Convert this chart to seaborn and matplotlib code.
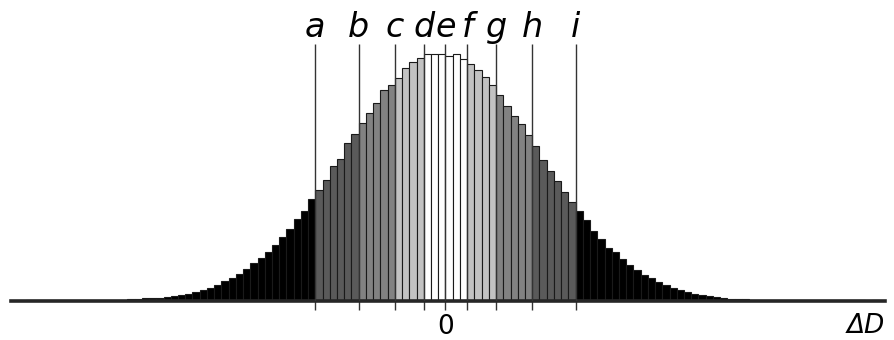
import numpy as np
import pandas as pd
import matplotlib
matplotlib.use("Agg")
import matplotlib.pyplot as plt
import seaborn as sns

# Histogram of ΔD: left bin edges (unit-width bins) and bin counts
bin_left = list(range(-60, 60))
counts = [
    0.3, 0.0, 0.6, 0.6, 0.6, 0.6, 0.6, 0.6, 0.6, 0.6,          # -60 .. -51
    0.6, 0.6, 0.6, 0.6, 0.6, 0.6, 1.6, 1.8, 2.6, 3.0,          # -50 .. -41
    3.3, 4.0, 4.7, 6.0, 7.3, 8.7, 10.7, 13.3, 15.7, 20.3,      # -40 .. -31
    23.3, 26.7, 32.3, 37.7, 43.3, 49.0, 56.3, 64.0, 72.0, 81.7,  # -30 .. -21
    90.0, 101.7, 111.0, 121.0, 135.0, 142.3, 157.7, 166.7, 178.3, 188.3,  # -20 .. -11
    198.3, 210.7, 216.0, 223.0, 232.7, 239.3, 243.3, 247.0, 246.7, 246.7,  # -10 .. -1
    245.3, 246.7, 242.0, 237.0, 231.0, 223.7, 215.7, 206.0, 195.3, 185.3,  # 0 .. 9
    177.0, 166.3, 155.0, 140.7, 130.0, 120.0, 108.7, 98.7, 90.0, 80.7,     # 10 .. 19
    70.3, 62.0, 52.7, 49.0, 41.7, 35.7, 30.7, 26.3, 22.7, 18.7,  # 20 .. 29
    15.7, 13.3, 11.3, 8.7, 7.0, 5.7, 4.7, 4.0, 3.3, 2.3,       # 30 .. 39
    2.0, 1.7, 1.3, 0.8, 0.8, 0.8, 0.8, 0.8, 0.8, 0.8,          # 40 .. 49
    0.8, 0.8, 0.8, 0.8, 0.8, 0.8, 0.8, 0.8, 0.2, 1.3,          # 50 .. 59
]

# Threshold markers a..i and the shading of the zones between them
marker_pos = [-18, -12, -7, -3, 0, 3, 7, 12, 18]
marker_labels = ["a", "b", "c", "d", "e", "f", "g", "h", "i"]
zone_colors = ["#000000", "#5a5a5a", "#828282", "#c2c2c2", "#ffffff",
               "#ffffff", "#c2c2c2", "#828282", "#5a5a5a", "#000000"]

centers = np.array(bin_left) + 0.5
zones = np.searchsorted(marker_pos, bin_left, side="right")
df = pd.DataFrame({"center": centers, "count": counts,
                   "zone": [str(z) for z in zones]})
hue_order = [str(z) for z in range(len(zone_colors))]
palette = dict(zip(hue_order, zone_colors))

sns.set_style("white")
plt.rcParams["font.family"] = ["DejaVu Sans"]

fig = plt.figure(figsize=(8.94, 3.40), dpi=100)
ax = fig.add_axes([11 / 894, 39 / 340, 874 / 894, 301 / 340])

sns.barplot(data=df, x="center", y="count", hue="zone", hue_order=hue_order,
            palette=palette, native_scale=True, dodge=False, width=1.0,
            errorbar=None, edgecolor="#1a1a1a", linewidth=0.8, saturation=1,
            legend=False, ax=ax)

# Threshold lines and their labels
ax.vlines(marker_pos, 0, 257, colors="#333333", linewidth=1.0, zorder=4)
for pos, lab in zip(marker_pos, marker_labels):
    ax.text(pos, 264, lab, ha="center", va="baseline", fontsize=24,
            style="italic", color="black")

ax.set_xlim(-60.1, 60.8)
ax.set_ylim(0, 301)

for side in ("left", "top", "right"):
    ax.spines[side].set_visible(False)
ax.spines["bottom"].set_linewidth(2.6)
ax.spines["bottom"].set_color("#262626")

ax.set_xticks(marker_pos)
ax.set_xticklabels(["", "", "", "", "0", "", "", "", ""], fontsize=19)
ax.tick_params(axis="x", length=6.5, width=1.0, color="#333333",
               labelcolor="black", direction="out", pad=2.5, bottom=True)
ax.set_yticks([])
ax.set_xlabel("")
ax.set_ylabel("")

fig.text(885 / 894, 1 - 333 / 340, "ΔD", ha="right", va="baseline",
         fontsize=19, style="italic", color="black")

fig.savefig("out.png", dpi=100, facecolor="white")
